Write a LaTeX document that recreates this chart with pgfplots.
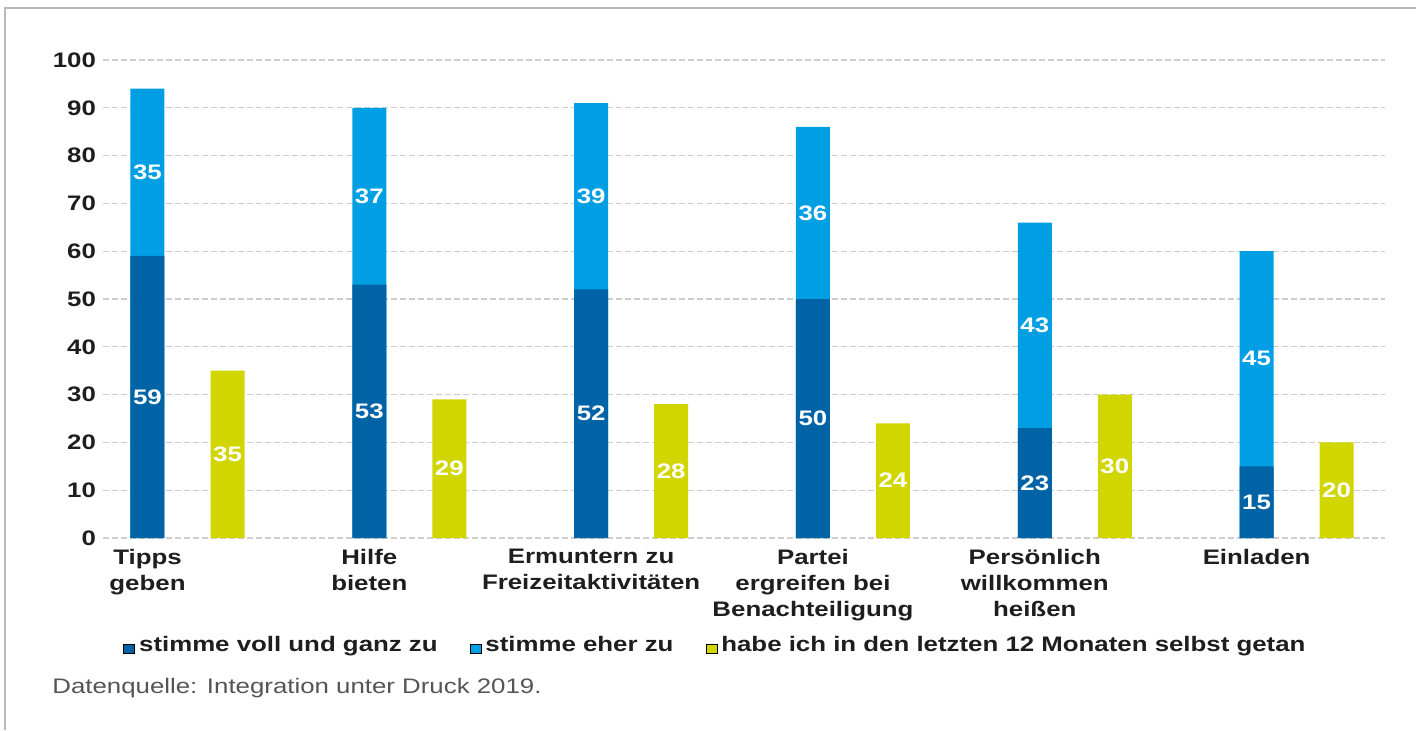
\documentclass[border=0pt]{standalone}
\usepackage{fontspec}
\setmainfont{Liberation Sans}[FakeStretch=1.23]
\usepackage{pgfplots}
\pgfplotsset{compat=1.18}
\definecolor{dblue}{RGB}{0,99,166}
\definecolor{lblue}{RGB}{0,159,227}
\definecolor{ylw}{RGB}{209,214,0}
\definecolor{txt}{RGB}{30,30,30}
\definecolor{gridc}{RGB}{205,205,205}
\definecolor{srcc}{RGB}{85,85,85}
\begin{document}
\begin{tikzpicture}[font=\fontsize{10.5}{13}\selectfont]
\useasboundingbox (0,0) rectangle (708pt,365pt);
\draw[gray!55, line width=1.2pt] (2.5pt,0) -- (2.5pt,361pt) -- (708pt,361pt);
\begin{axis}[
  at={(51.5pt,96pt)}, anchor=south west,
  scale only axis, width=641pt, height=239pt,
  xmin=-0.2006, xmax=5.579, ymin=0, ymax=100,
  axis lines*=left, axis line style={draw=none}, major tick length=0pt,
  ytick={0,10,...,100}, ymajorgrids,
  grid style={gridc, line width=0.6pt, dash pattern=on 3pt off 1.5pt},
  xtick={0,1,2,3,4,5},
  xticklabels={{Tipps\\geben},{Hilfe\\bieten},{Ermuntern zu\\Freizeitaktivitäten},{Partei\\ergreifen bei\\Benachteiligung},{Persönlich\\willkommen\\heißen},{Einladen}},
  xticklabel style={align=center, font=\bfseries\fontsize{10.5}{13}\selectfont, text=txt, yshift=-2pt},
  yticklabel style={font=\bfseries\fontsize{10.5}{13}\selectfont, text=txt},
  /pgf/number format/assume math mode=true,
  legend columns=3,
  legend style={at={(0.0109,-0.224)}, anchor=west, draw=none, fill=none,
    font=\bfseries\fontsize{10.5}{13}\selectfont, text=txt,
    /tikz/every even column/.append style={column sep=14pt}},
  legend image code/.code={\fill[#1] (0pt,-4.2pt) rectangle (5.5pt,0.5pt);},
]
% light blue segment (drawn from 0 to total, dark segment drawn over it)
\addplot[ybar, bar width=17pt, bar shift=0pt, fill=lblue, draw=none, forget plot]
  coordinates {(0,94) (1,90) (2,91) (3,86) (4,66) (5,60)};
% dark blue segment
\addplot[ybar, bar width=17pt, bar shift=0pt, fill=dblue, draw=none, forget plot]
  coordinates {(0,59) (1,53) (2,52) (3,50) (4,23) (5,15)};
% yellow
\addplot[ybar, bar width=17pt, bar shift=0pt, fill=ylw, draw=none, forget plot]
  coordinates {(0.3607,35) (1.3607,29) (2.3607,28) (3.3607,24) (4.3607,30) (5.3607,20)};
% value labels
\addplot[draw=none, forget plot, nodes near coords, point meta=explicit symbolic,
  nodes near coords style={anchor=center, text=white, font=\bfseries\fontsize{10.5}{13}\selectfont}]
  coordinates {(0,29.5)[59] (1,26.5)[53] (2,26)[52] (3,25)[50] (4,11.5)[23] (5,7.5)[15]};
\addplot[draw=none, forget plot, nodes near coords, point meta=explicit symbolic,
  nodes near coords style={anchor=center, text=white, font=\bfseries\fontsize{10.5}{13}\selectfont}]
  coordinates {(0,76.5)[35] (1,71.5)[37] (2,71.5)[39] (3,68)[36] (4,44.5)[43] (5,37.5)[45]};
\addplot[draw=none, forget plot, nodes near coords, point meta=explicit symbolic,
  nodes near coords style={anchor=center, text=white, font=\bfseries\fontsize{10.5}{13}\selectfont}]
  coordinates {(0.3607,17.5)[35] (1.3607,14.5)[29] (2.3607,14)[28] (3.3607,12)[24] (4.3607,15)[30] (5.3607,10)[20]};
\addlegendimage{fill=dblue}
\addlegendimage{fill=lblue}
\addlegendimage{fill=ylw}
\legend{stimme voll und ganz zu, stimme eher zu, habe ich in den letzten 12 Monaten selbst getan}
\end{axis}
\node[anchor=west, text=srcc, inner sep=0pt] at (26pt,21pt) {Datenquelle: Integration unter Druck 2019.};
\end{tikzpicture}
\end{document}
